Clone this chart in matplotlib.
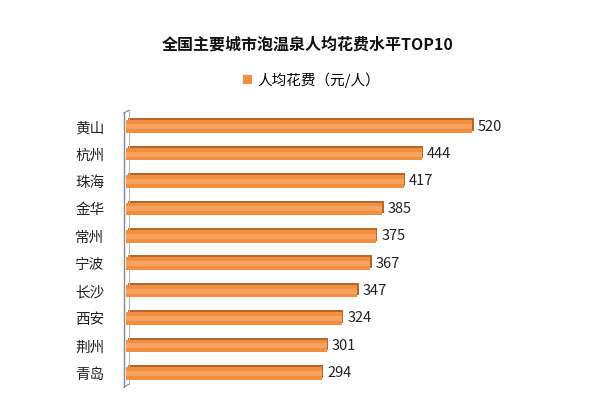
import matplotlib.pyplot as plt

plt.rcParams['font.family'] = ['Noto Sans CJK SC', 'DejaVu Sans']

# 数据
cities = ['黄山', '杭州', '珠海', '金华', '常州', '宁波', '长沙', '西安', '荆州', '青岛']
costs = [520, 444, 417, 385, 375, 367, 347, 324, 301, 294]

fig = plt.figure(figsize=(6.16, 4.17), dpi=100)
ax = fig.add_axes([0.201, 0.072, 0.68, 0.657])

pos = list(range(len(cities)))[::-1]
# profundidade da barra (efeito 3D)
ax.barh([p + 0.07 for p in pos], costs, height=0.46, left=6, color='#B8672A', zorder=2)
ax.barh(pos, costs, height=0.46, left=4, color='#F28E40', zorder=3,
        label='人均花费（元/人）')
# brilho no meio da barra
ax.barh(pos, costs, height=0.18, left=4, color='#F7A25F', zorder=4)

for p, v in zip(pos, costs):
    ax.text(v + 12, p, str(v), va='center', ha='left', fontsize=10.5, color='#222222')

# parede do eixo (3D)
ax.plot([0.012, 0.012], [0.01, 1.01], transform=ax.transAxes, color='#BBBBBB', lw=0.8, clip_on=False)
ax.plot([0, 0.012], [1.0, 1.01], transform=ax.transAxes, color='#888888', lw=0.8, clip_on=False)
ax.plot([0, 0.012], [0.0, 0.01], transform=ax.transAxes, color='#888888', lw=0.8, clip_on=False)

ax.set_xlim(0, 630)
ax.set_ylim(-0.5, 9.5)
ax.set_yticks(pos)
ax.set_yticklabels(cities, fontsize=10.5, color='#222222')
ax.tick_params(axis='y', length=0, pad=14)
ax.set_xticks([])
for s in ['top', 'right', 'bottom']:
    ax.spines[s].set_visible(False)
ax.spines['left'].set_color('#888888')
ax.spines['left'].set_linewidth(1.0)

fig.text(0.5, 0.893, '全国主要城市泡温泉人均花费水平TOP10', ha='center', va='center',
         fontsize=11.5, fontweight='bold', color='#111111')
ax.legend(loc='center', bbox_to_anchor=(0.449, 1.12), frameon=False, fontsize=10.5,
          handlelength=0.6, handleheight=0.6, handletextpad=0.4)

fig.savefig('out.png', dpi=100, facecolor='white')
